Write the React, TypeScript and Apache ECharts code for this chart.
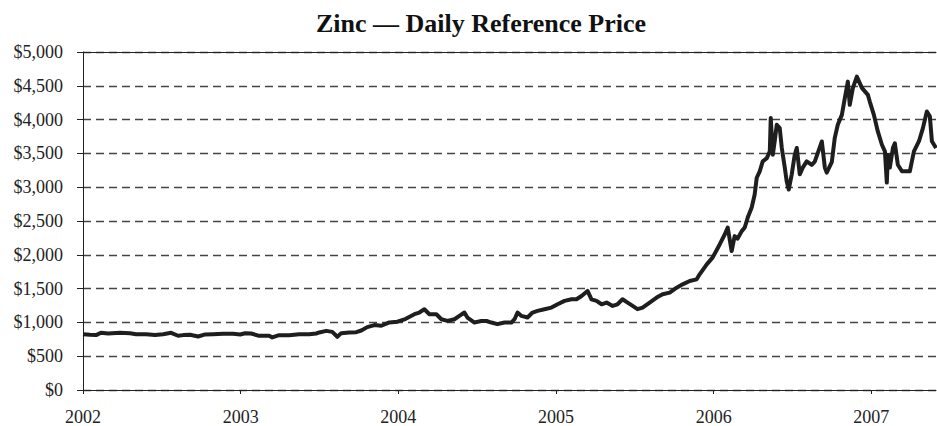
import React, { useEffect, useRef } from "react";
import * as echarts from "echarts";

// Fractional year of each reading
const years: number[] = [
  2002.0, 2002.044, 2002.083, 2002.114, 2002.159, 2002.235, 2002.298, 2002.337, 2002.4, 2002.457,
  2002.508, 2002.559, 2002.603, 2002.635, 2002.679, 2002.73, 2002.775, 2002.825, 2002.889, 2002.952,
  2002.997, 2003.029, 2003.067, 2003.117, 2003.181, 2003.2, 2003.244, 2003.308, 2003.371, 2003.435,
  2003.479, 2003.498, 2003.543, 2003.581, 2003.613, 2003.638, 2003.689, 2003.733, 2003.765, 2003.803,
  2003.848, 2003.892, 2003.943, 2003.994, 2004.044, 2004.102, 2004.133, 2004.165, 2004.197, 2004.241,
  2004.273, 2004.311, 2004.356, 2004.387, 2004.419, 2004.438, 2004.483, 2004.527, 2004.559, 2004.59,
  2004.629, 2004.673, 2004.717, 2004.737, 2004.756, 2004.781, 2004.819, 2004.851, 2004.883, 2004.927,
  2004.971, 2005.01, 2005.054, 2005.098, 2005.13, 2005.162, 2005.2, 2005.225, 2005.257, 2005.289,
  2005.321, 2005.359, 2005.39, 2005.422, 2005.454, 2005.486, 2005.517, 2005.549, 2005.594, 2005.638,
  2005.676, 2005.721, 2005.765, 2005.803, 2005.848, 2005.892, 2005.911, 2005.956, 2005.994, 2006.038,
  2006.07, 2006.089, 2006.114, 2006.133, 2006.152, 2006.178, 2006.197, 2006.216, 2006.241, 2006.26,
  2006.273, 2006.292, 2006.311, 2006.337, 2006.356, 2006.362, 2006.375, 2006.387, 2006.4, 2006.419,
  2006.432, 2006.451, 2006.463, 2006.476, 2006.495, 2006.514, 2006.527, 2006.546, 2006.565, 2006.59,
  2006.622, 2006.641, 2006.686, 2006.705, 2006.717, 2006.749, 2006.768, 2006.787, 2006.813, 2006.832,
  2006.851, 2006.863, 2006.883, 2006.908, 2006.94, 2006.978, 2006.99, 2007.016, 2007.041, 2007.067,
  2007.086, 2007.098, 2007.105, 2007.117, 2007.137, 2007.149, 2007.168, 2007.194, 2007.244, 2007.27,
  2007.302, 2007.327, 2007.352, 2007.371, 2007.384, 2007.41,
];

// Price in US$ per tonne at each reading
const prices: number[] = [
  826, 817, 812, 846, 836, 846, 840, 826, 826, 812,
  826, 846, 802, 812, 817, 792, 822, 826, 831, 831,
  822, 840, 836, 801, 801, 777, 811, 811, 826, 826,
  836, 851, 875, 860, 787, 841, 851, 856, 880, 930,
  960, 950, 1000, 1010, 1050, 1121, 1146, 1195, 1121, 1121,
  1047, 1022, 1047, 1096, 1146, 1072, 998, 1022, 1022, 998,
  974, 998, 998, 1047, 1146, 1096, 1072, 1146, 1170, 1195,
  1219, 1268, 1318, 1342, 1342, 1391, 1465, 1342, 1318, 1268,
  1293, 1244, 1268, 1342, 1293, 1244, 1195, 1219, 1293, 1367,
  1416, 1441, 1514, 1563, 1613, 1637, 1711, 1858, 1962, 2153,
  2300, 2404, 2055, 2276, 2240, 2350, 2404, 2551, 2700, 2891,
  3140, 3235, 3382, 3430, 3530, 4025, 3480, 3680, 3923, 3874,
  3580, 3290, 3087, 2965, 3190, 3480, 3580, 3190, 3290, 3382,
  3330, 3378, 3677, 3290, 3215, 3370, 3730, 3923, 4070, 4320,
  4562, 4218, 4470, 4636, 4470, 4366, 4267, 4070, 3825, 3628,
  3530, 3068, 3480, 3290, 3584, 3650, 3333, 3235, 3235, 3530,
  3680, 3874, 4120, 4050, 3680, 3580,
];

const xStart = 2002;
const xEnd = 2007.41;
const yTicksMax = 5000;
const yStep = 500;

const FONT = "'Liberation Serif', 'Times New Roman', serif";

export default function App() {
  const ref = useRef<HTMLDivElement>(null);

  useEffect(() => {
    if (!ref.current) return;
    const chart = echarts.init(ref.current, null, { renderer: "svg" });
    const data = years.map((y, i) => [y, prices[i]]);
    chart.setOption({
      animation: false,
      backgroundColor: "#ffffff",
      title: {
        text: "Zinc \u2014 Daily Reference Price",
        left: 476,
        top: 5,
        textAlign: "center",
        textStyle: {
          fontFamily: FONT,
          fontWeight: "bold",
          fontSize: 26,
          color: "#111",
        },
      },
      grid: { left: 83, right: 1, top: 52, bottom: 35, containLabel: false },
      xAxis: [
        {
          type: "value",
          min: xStart,
          max: xEnd,
          interval: 1,
          axisLine: { show: true, onZero: false, lineStyle: { color: "#222", width: 1 } },
          axisTick: { show: true, length: 4, lineStyle: { color: "#222" } },
          axisLabel: {
            margin: 18,
            fontFamily: FONT,
            fontSize: 18,
            color: "#222",
            showMaxLabel: false,
            formatter: (v: number) => (Math.abs(v - Math.round(v)) < 1e-6 ? String(Math.round(v)) : ""),
          },
          splitLine: { show: false },
        },
        {
          type: "value",
          position: "top",
          min: xStart,
          max: xEnd,
          axisLine: { show: true, onZero: false, lineStyle: { color: "#222", width: 1 } },
          axisTick: { show: false },
          axisLabel: { show: false },
          splitLine: { show: false },
        },
      ],
      yAxis: {
        type: "value",
        min: 0,
        max: yTicksMax,
        interval: yStep,
        axisLine: { show: true, lineStyle: { color: "#222", width: 1 } },
        axisTick: { show: true, length: 6, lineStyle: { color: "#222" } },
        axisLabel: {
          margin: 20,
          fontFamily: FONT,
          fontSize: 18,
          color: "#222",
          formatter: (v: number) => "$" + v.toLocaleString("en-US"),
        },
        splitLine: {
          show: true,
          lineStyle: { color: "#444", width: 1.3, type: [8, 5] },
        },
      },
      series: [
        {
          type: "line",
          data,
          xAxisIndex: 0,
          showSymbol: false,
          symbol: "none",
          lineStyle: { color: "#1e1e1e", width: 4, join: "round" },
        },
      ],
    });
    return () => chart.dispose();
  }, []);

  return (
    <div
      ref={ref}
      style={{ position: "fixed", left: 0, top: 0, width: 937, height: 426, background: "#fff" }}
    />
  );
}
